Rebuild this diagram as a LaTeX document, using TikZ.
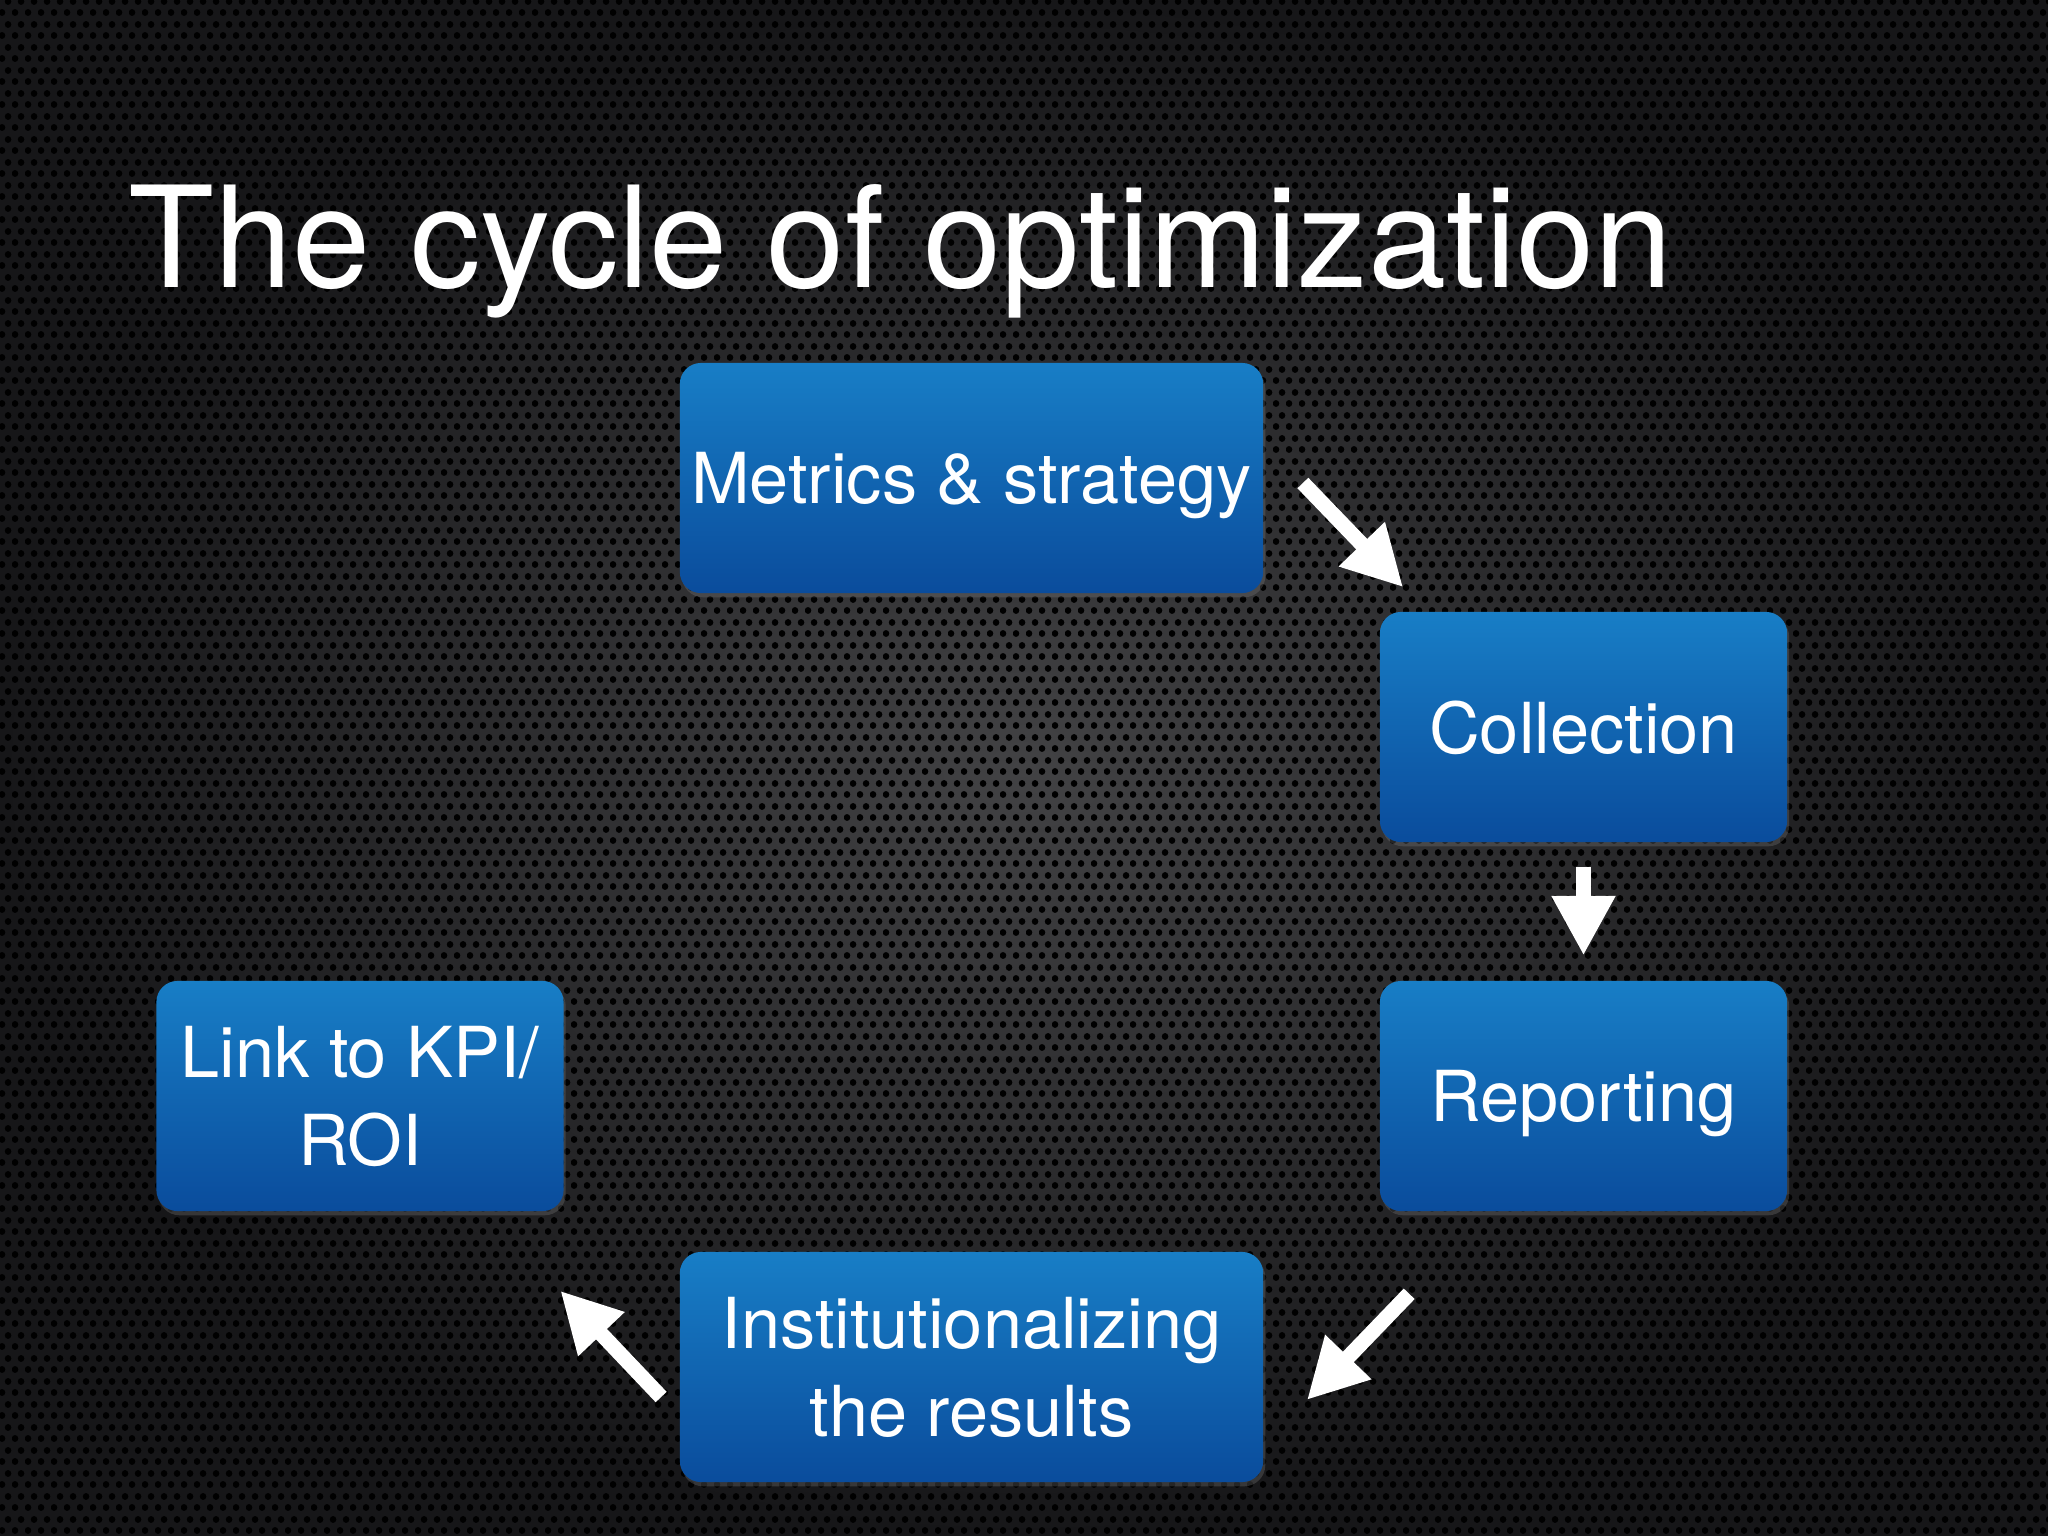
\documentclass[tikz,border=0pt]{standalone}
\usepackage{fontspec}
\setmainfont{TeX Gyre Heros}
\usetikzlibrary{arrows.meta,shadows,patterns.meta}
\definecolor{boxtop}{RGB}{24,126,198}
\definecolor{boxbot}{RGB}{10,76,156}
\definecolor{bgin}{RGB}{66,66,68}
\definecolor{bgout}{RGB}{22,22,24}
\tikzdeclarepattern{
  name=perf,
  type=uncolored,
  bottom left={(0pt,0pt)},
  top right={(3.7pt,6.4pt)},
  tile size={(3.7pt,6.4pt)},
  code={
    \fill (0.925pt,1.6pt) circle (1pt);
    \fill (2.775pt,4.8pt) circle (1pt);
  }
}
\tikzset{
  stage/.style={rectangle, rounded corners=6pt, top color=boxtop, bottom color=boxbot,
    text=white, font=\fontsize{20}{25}\selectfont, align=center,
    minimum height=2.3cm, inner sep=0pt, text depth=0pt,
    drop shadow={opacity=0.3, shadow xshift=0.6pt, shadow yshift=-1.2pt}},
  wide/.style={minimum width=5.83cm},
  narrow/.style={minimum width=4.07cm},
  flow/.style={white, line width=4.3pt, -{Triangle[width=17pt,length=17pt]}}
}
\begin{document}
\begin{tikzpicture}[x=0.01cm,y=-0.01cm]
  \useasboundingbox (0,0) rectangle (2048,1536);
  % background
  \fill[inner color=bgin, outer color=bgout] (0,0) rectangle (2048,1536);
  \fill[pattern=perf, pattern color=black] (0,0) rectangle (2048,1536);
  \node[anchor=base west, inner sep=0pt, text=white, font=\fontsize{40}{48}\selectfont]
    (title) at (128,287) {The cycle of optimization};

  % stages of the cycle
  \node[stage, wide]   (metrics) at (971.5,478)  {Metrics \& strategy};
  \node[stage, narrow] (colln)   at (1583.5,727) {Collection};
  \node[stage, narrow] (report)  at (1583.5,1096) {Reporting};
  \node[stage, wide]   (inst)    at (971.5,1367) {Institutionalizing\\the results};
  \node[stage, narrow] (link)    at (360,1096)   {Link to KPI/\\ROI};

  % arrows between stages
  \draw[flow] ([shift={(39,5)}]metrics.east) -- ([shift={(24,-24)}]colln.north west);
  \draw[flow, shorten <=7pt, shorten >=7pt] (colln.south) -- (report.north);
  \draw[flow] ([shift={(30,82)}]report.south west) -- ([shift={(43,33)}]inst.east);
  \draw[flow] ([shift={(-18,30)}]inst.west) -- ([shift={(-4,79)}]link.south east);
\end{tikzpicture}
\end{document}
